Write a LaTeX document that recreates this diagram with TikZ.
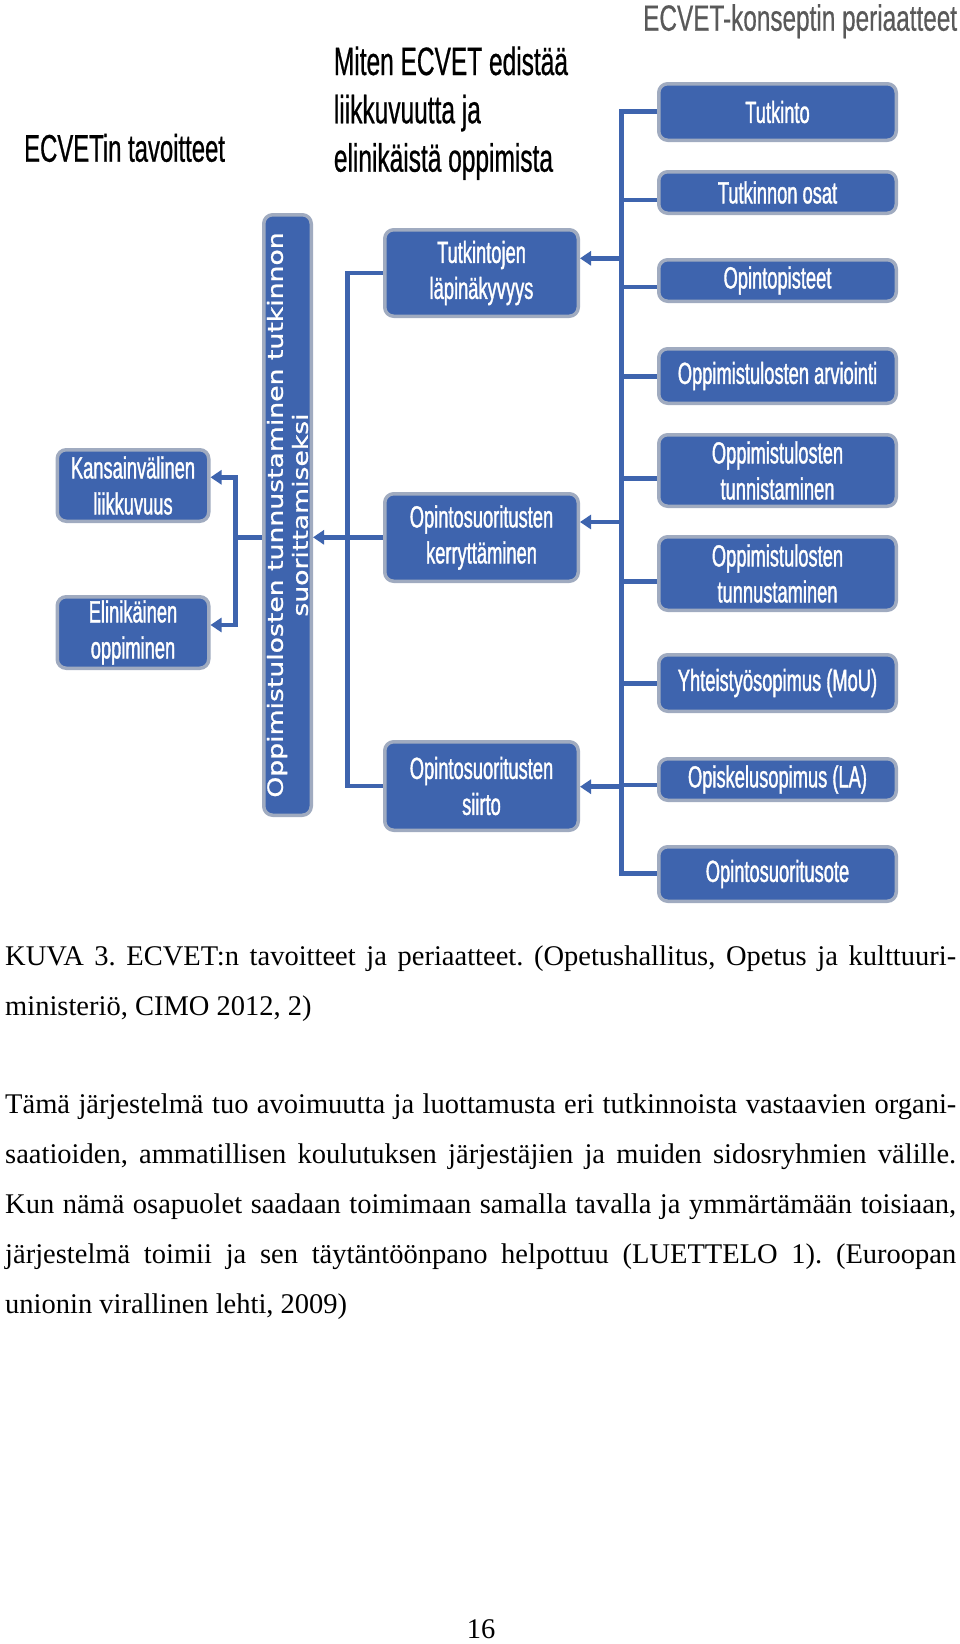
\documentclass[tikz,border=0pt]{standalone}
\usepackage{fontspec}
\setmainfont{Liberation Serif}
\newfontfamily\narT[FakeStretch=0.62,FakeBold=0.6]{Liberation Sans}
\newfontfamily\narG[FakeStretch=0.667,FakeBold=0.4]{Liberation Sans}
\newfontfamily\narB[FakeStretch=0.6,FakeBold=1.2]{Liberation Sans}
\newfontfamily\wideF[FakeStretch=1.27,FakeBold=1]{DejaVu Sans}
\usetikzlibrary{arrows.meta}
\definecolor{boxblue}{RGB}{62,100,174}
\definecolor{boxedge}{RGB}{160,171,192}
\definecolor{lineblue}{RGB}{62,100,174}
\definecolor{titlegrey}{RGB}{89,89,89}
\frenchspacing
\begin{document}
\begin{tikzpicture}[x=1pt,y=-1pt,
  bx/.style={fill=boxblue, draw=boxedge, line width=3.5pt, rounded corners=9pt,
    inner sep=0pt, text=white, align=center,
    font=\narB\fontsize{30.5pt}{36pt}\selectfont},
  rbox/.style={bx, minimum width=237.5pt},
  mbox/.style={bx, minimum width=193.5pt},
  lbox/.style={bx, minimum width=151.5pt, minimum height=71.5pt},
  conn/.style={draw=lineblue, line width=4.5pt, line join=miter},
  arr/.style={draw=lineblue, line width=4.5pt,
    -{Triangle[length=11pt,width=14pt]}},
  ttl/.style={anchor=base west, inner sep=0pt},
  txt/.style={anchor=base west, inner sep=0pt,
    font=\fontsize{28.5pt}{50pt}\selectfont}
]
\fill[white] (0,0) rectangle (960,1644);
\useasboundingbox (0,0) rectangle (960,1644);

% titles
\node[ttl, font=\narT\fontsize{38.5pt}{38.5pt}\selectfont] (t1) at (24,161.7) {ECVETin tavoitteet};
\node[ttl, font=\narT\fontsize{39.5pt}{39.5pt}\selectfont] (t2a) at (333.7,75) {Miten ECVET edistää};
\node[ttl, font=\narT\fontsize{39.5pt}{39.5pt}\selectfont] (t2b) at (333.7,123.3) {liikkuvuutta ja};
\node[ttl, font=\narT\fontsize{39.5pt}{39.5pt}\selectfont] (t2c) at (333.7,171.7) {elinikäistä oppimista};
\node[ttl, text=titlegrey, font=\narG\fontsize{36.5pt}{36.5pt}\selectfont] (t3) at (643,30.7) {ECVET-konseptin periaatteet};

% right column
\node[rbox, minimum height=56.5pt] (r1) at (777.5,112) {Tutkinto};
\node[rbox, minimum height=41.5pt] (r2) at (777.5,192.5) {Tutkinnon osat};
\node[rbox, minimum height=41.5pt] (r3) at (777.5,280.5) {Opintopisteet};
\node[rbox, minimum height=54.5pt] (r4) at (777.5,376) {Oppimistulosten arviointi};
\node[rbox, minimum height=71.5pt] (r5) at (777.5,470.5) {Oppimistulosten\\tunnistaminen};
\node[rbox, minimum height=73.5pt] (r6) at (777.5,573.5) {Oppimistulosten\\tunnustaminen};
\node[rbox, minimum height=56.5pt] (r7) at (777.5,683) {Yhteistyösopimus (MoU)};
\node[rbox, minimum height=41.5pt] (r8) at (777.5,779.5) {Opiskelusopimus (LA)};
\node[rbox, minimum height=54.5pt] (r9) at (777.5,874) {Opintosuoritusote};

% middle column
\node[mbox, minimum height=86.5pt] (m1) at (481.5,273) {Tutkintojen\\läpinäkyvyys};
\node[mbox, minimum height=87.5pt] (m2) at (481.5,537.5) {Opintosuoritusten\\kerryttäminen};
\node[mbox, minimum height=88.5pt] (m3) at (481.5,786) {Opintosuoritusten\\siirto};

% vertical bar
\node[bx, rotate=90, minimum width=600.5pt, minimum height=47.5pt,
  font=\wideF\fontsize{21pt}{25pt}\selectfont] (bar) at (287.5,515)
  {Oppimistulosten tunnustaminen tutkinnon\\suorittamiseksi};

% left column
\node[lbox] (l1) at (133,485.5) {Kansainvälinen\\liikkuvuus};
\node[lbox] (l2) at (133,632.5) {Elinikäinen\\oppiminen};

% right bus
\coordinate (bt) at (621.7,111.7);
\coordinate (bb) at (621.7,873.3);
\draw[conn] (r1.west |- bt) -- (bt) -- (bb) -- (r9.west |- bb);
\draw[conn] (bt |- 0,200) -- (r2.west |- 0,200);
\draw[conn] (bt |- 0,287) -- (r3.west |- 0,287);
\draw[conn] (bt |- 0,376.7) -- (r4.west |- 0,376.7);
\draw[conn] (bt |- 0,478.3) -- (r5.west |- 0,478.3);
\draw[conn] (bt |- 0,581.7) -- (r6.west |- 0,581.7);
\draw[conn] (bt |- 0,683.3) -- (r7.west |- 0,683.3);
\draw[conn] (bt |- 0,785) -- (r8.west |- 0,785);

% arrows into middle boxes
\draw[arr] (bt |- 0,258.3) -- (m1.east |- 0,258.3);
\draw[arr] (bt |- 0,522) -- (m2.east |- 0,522);
\draw[arr] (bt |- 0,786.7) -- (m3.east |- 0,786.7);

% middle bus
\coordinate (mt) at (347.5,273);
\coordinate (mb) at (347.5,786);
\draw[conn] (m1.west |- mt) -- (mt) -- (mb) -- (m3.west |- mb);
\draw[arr] (m2.west |- 0,537.3) -- (bar.south |- 0,537.3);

% left bracket
\coordinate (lj) at (235.5,537.3);
\draw[conn] (bar.north |- lj) -- (lj);
\draw[arr] (lj) |- (l1.east |- 0,477.3);
\draw[arr] (lj) |- (l2.east |- 0,625);

% caption and body text
\node[txt] (c1) at (5,965) {\makebox[951pt][s]{KUVA 3. ECVET:n tavoitteet ja periaatteet. (Opetushallitus, Opetus ja kulttuuri-}};
\node[txt] (c2) at (5,1015) {ministeriö, CIMO 2012, 2)};
\node[txt] (p1) at (5,1113) {\makebox[951pt][s]{Tämä järjestelmä tuo avoimuutta ja luottamusta eri tutkinnoista vastaavien organi-}};
\node[txt] (p2) at (5,1163) {\makebox[951pt][s]{saatioiden, ammatillisen koulutuksen järjestäjien ja muiden sidosryhmien välille.}};
\node[txt] (p3) at (5,1213) {\makebox[951pt][s]{Kun nämä osapuolet saadaan toimimaan samalla tavalla ja ymmärtämään toisiaan,}};
\node[txt] (p4) at (5,1263) {\makebox[951pt][s]{järjestelmä toimii ja sen täytäntöönpano helpottuu (LUETTELO 1). (Euroopan}};
\node[txt] (p5) at (5,1313) {unionin virallinen lehti, 2009)};
\node[txt, anchor=base] (pg) at (481,1638) {16};
\end{tikzpicture}
\end{document}
